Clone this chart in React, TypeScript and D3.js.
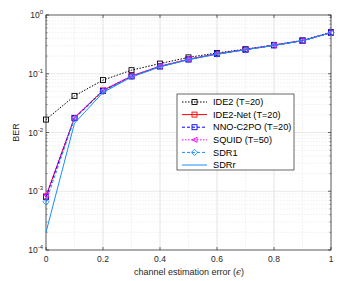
import React from "react";
import { scaleLinear, scaleLog, line } from "d3";

const xs = [0, 0.1, 0.2, 0.3, 0.4, 0.5, 0.6, 0.7, 0.8, 0.9, 1];
const ide2 = [0.0166, 0.042, 0.078, 0.115, 0.149, 0.19, 0.226, 0.262, 0.31, 0.37, 0.51];
const ide2Net = [0.00082, 0.0178, 0.052, 0.091, 0.134, 0.176, 0.218, 0.258, 0.305, 0.365, 0.5];
const nnoC2po = [0.0008, 0.0176, 0.051, 0.09, 0.133, 0.175, 0.217, 0.257, 0.305, 0.365, 0.5];
const squid = [0.00086, 0.018, 0.053, 0.092, 0.135, 0.177, 0.219, 0.259, 0.306, 0.366, 0.5];
const sdr1 = [0.00066, 0.0172, 0.05, 0.089, 0.132, 0.174, 0.216, 0.256, 0.304, 0.364, 0.5];
const sdrR = [0.0002, 0.0144, 0.048, 0.088, 0.131, 0.173, 0.215, 0.256, 0.304, 0.364, 0.5];
const xTicks = [0, 0.2, 0.4, 0.6, 0.8, 1];
const yExps = [-4, -3, -2, -1, 0];

const series = [
  { name: "IDE2 (T=20)", data: ide2, color: "#000000", dash: "1.5,1.5", marker: "square" },
  { name: "IDE2-Net (T=20)", data: ide2Net, color: "#ff0000", dash: "", marker: "square" },
  { name: "NNO-C2PO (T=20)", data: nnoC2po, color: "#0000ff", dash: "3,2", marker: "square" },
  { name: "SQUID (T=50)", data: squid, color: "#ff00ff", dash: "1.5,1.5", marker: "triangle" },
  { name: "SDR1", data: sdr1, color: "#1a8cff", dash: "3,2", marker: "diamond" },
  { name: "SDRr", data: sdrR, color: "#1a8cff", dash: "", marker: "none" },
];

const W = 346;
const H = 281;
const m = { left: 46, right: 331, top: 15, bottom: 250 };

function Marker({ type, x, y, color }: { type: string; x: number; y: number; color: string }) {
  const s = 2.5;
  if (type === "square")
    return <rect x={x - s} y={y - s} width={2 * s} height={2 * s} fill="none" stroke={color} strokeWidth={0.9} />;
  if (type === "triangle")
    return <path d={`M${x - s},${y}L${x + s},${y - s}L${x + s},${y + s}Z`} fill="none" stroke={color} strokeWidth={0.9} />;
  if (type === "diamond")
    return <path d={`M${x},${y - 3.2}L${x + 3.2},${y}L${x},${y + 3.2}L${x - 3.2},${y}Z`} fill="none" stroke={color} strokeWidth={0.9} />;
  return null;
}

export default function App() {
  const x = scaleLinear().domain([0, 1]).range([m.left, m.right]);
  const y = scaleLog().domain([1e-4, 1]).range([m.bottom, m.top]);
  const gen = line<number>()
    .x((_, i) => x(xs[i]))
    .y((d) => y(d));

  const minor: number[] = [];
  for (let e = -4; e < 0; e++) for (let k = 2; k <= 9; k++) minor.push(k * Math.pow(10, e));
  const xMinor: number[] = [];
  for (let i = 0; i <= 10; i++) xMinor.push(i / 10);

  const font = "'Liberation Sans', Arial, sans-serif";
  const legX = 177;
  const legY = 94;
  const legW = 117;
  const legH = 76;

  return (
    <svg width={W} height={H} style={{ position: "absolute", left: 0, top: 0, fontFamily: font }}>
      <rect x={0} y={0} width={W} height={H} fill="#fff" />
      <rect x={m.left} y={m.top} width={m.right - m.left} height={m.bottom - m.top} fill="#fff" />
      {minor.map((v) => (
        <line key={"ym" + v} x1={m.left} x2={m.right} y1={y(v)} y2={y(v)} stroke="#e4e4e4" strokeWidth={0.6} strokeDasharray="1.5,1.5" />
      ))}
      {xMinor.map((v) => (
        <line key={"xm" + v} x1={x(v)} x2={x(v)} y1={m.top} y2={m.bottom} stroke="#e4e4e4" strokeWidth={0.6} strokeDasharray="1.5,1.5" />
      ))}
      {xTicks.map((v) => (
        <line key={"xg" + v} x1={x(v)} x2={x(v)} y1={m.top} y2={m.bottom} stroke="#e0e0e0" strokeWidth={0.7} />
      ))}
      {yExps.map((e) => (
        <line key={"yg" + e} x1={m.left} x2={m.right} y1={y(Math.pow(10, e))} y2={y(Math.pow(10, e))} stroke="#e0e0e0" strokeWidth={0.7} />
      ))}
      <rect x={m.left} y={m.top} width={m.right - m.left} height={m.bottom - m.top} fill="none" stroke="#262626" strokeWidth={0.7} />
      {xTicks.map((v) => (
        <g key={"xt" + v}>
          <line x1={x(v)} x2={x(v)} y1={m.bottom} y2={m.bottom - 3} stroke="#262626" strokeWidth={0.7} />
          <line x1={x(v)} x2={x(v)} y1={m.top} y2={m.top + 3} stroke="#262626" strokeWidth={0.7} />
          <text x={x(v)} y={m.bottom + 12} fontSize={8.5} textAnchor="middle" fill="#262626">
            {String(v)}
          </text>
        </g>
      ))}
      {minor.map((v) => (
        <g key={"ymt" + v}>
          <line x1={m.left} x2={m.left + 1.5} y1={y(v)} y2={y(v)} stroke="#262626" strokeWidth={0.5} />
          <line x1={m.right} x2={m.right - 1.5} y1={y(v)} y2={y(v)} stroke="#262626" strokeWidth={0.5} />
        </g>
      ))}
      {yExps.map((e) => (
        <g key={"yt" + e}>
          <line x1={m.left} x2={m.left + 3} y1={y(Math.pow(10, e))} y2={y(Math.pow(10, e))} stroke="#262626" strokeWidth={0.7} />
          <line x1={m.right} x2={m.right - 3} y1={y(Math.pow(10, e))} y2={y(Math.pow(10, e))} stroke="#262626" strokeWidth={0.7} />
          <text x={m.left - 3} y={y(Math.pow(10, e)) + 3} fontSize={8.5} textAnchor="end" fill="#262626">
            10<tspan dy={-4} fontSize={6}>{String(e)}</tspan>
          </text>
        </g>
      ))}
      <text x={189} y={275} fontSize={9} textAnchor="middle" fill="#262626">
        channel estimation error (<tspan fontFamily="'DejaVu Serif', serif" fontStyle="italic">ϵ</tspan>)
      </text>
      <text transform={`translate(19,${(m.top + m.bottom) / 2}) rotate(-90)`} fontSize={9} textAnchor="middle" fill="#262626">
        BER
      </text>
      {series.map((s) => (
        <g key={s.name}>
          <path d={gen(s.data) || ""} fill="none" stroke={s.color} strokeWidth={1} strokeDasharray={s.dash} />
          {s.data.map((d, i) => (
            <Marker key={i} type={s.marker} x={x(xs[i])} y={y(d)} color={s.color} />
          ))}
        </g>
      ))}
      <rect x={legX} y={legY} width={legW} height={legH} fill="#fff" stroke="#262626" strokeWidth={0.7} />
      {series.map((s, i) => {
        const ly = legY + 8 + i * 12.6;
        return (
          <g key={"lg" + s.name}>
            <line x1={legX + 5} x2={legX + 30} y1={ly} y2={ly} stroke={s.color} strokeWidth={1} strokeDasharray={s.dash} />
            <Marker type={s.marker} x={legX + 17.5} y={ly} color={s.color} />
            <text x={legX + 36} y={ly + 3.2} fontSize={9.2} fill="#000">
              {s.name}
            </text>
          </g>
        );
      })}
    </svg>
  );
}
